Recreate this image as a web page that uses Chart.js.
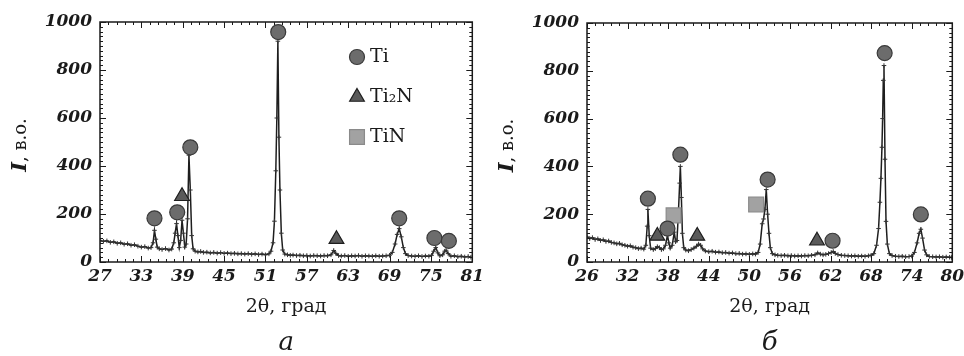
<!DOCTYPE html>
<html><head><meta charset="utf-8">
<script src="https://cdn.jsdelivr.net/npm/chart.js@4.4.1/dist/chart.umd.min.js"></script>
<style>
html,body{margin:0;padding:0;background:#fff;}
#wrap{display:flex;width:964px;height:356px;}
.box{position:relative;width:482px;height:356px;}
</style></head><body>
<div id="wrap"><div class="box"><canvas id="cA" width="482" height="356"></canvas></div><div class="box"><canvas id="cB" width="482" height="356"></canvas></div></div>
<script>
// ---- tick labels ----
const xTicksA = [27,33,39,45,51,57,63,69,75,81];
const xTicksB = [26,32,38,44,50,56,62,68,74,80];
const yTicks = [0,200,400,600,800,1000];
const xTitle = '2θ, град';
const yTitleMain = 'I';
const yTitleRest = ', в.о.';
const panelLabels = ['а','б'];
const legendLabels = ['Ti','Ti₂N','TiN'];

// ---- panel а : diffraction pattern ----
const angleA = [27.0,27.5,28.0,28.5,29.0,29.5,30.0,30.5,31.0,31.5,
 32.0,32.5,33.0,33.5,34.0,34.4,34.7,34.9,35.1,35.3,
 35.6,36.0,36.5,37.0,37.4,37.7,37.9,38.1,38.3,38.5,
 38.7,38.9,39.1,39.3,39.5,39.7,39.9,40.1,40.3,40.5,
 40.8,41.2,41.6,42.0,42.5,43.0,43.5,44.0,44.5,45.0,
 45.5,46.0,46.5,47.0,47.5,48.0,48.5,49.0,49.5,50.0,
 50.5,51.0,51.5,51.8,52.1,52.3,52.5,52.65,52.8,52.95,
 53.1,53.3,53.5,53.8,54.2,54.6,55.0,55.5,56.0,56.5,
 57.0,57.5,58.0,58.5,59.0,59.5,60.0,60.5,60.9,61.2,
 61.6,62.0,62.5,63.0,63.5,64.0,64.5,65.0,65.5,66.0,
 66.5,67.0,67.5,68.0,68.5,69.0,69.4,69.8,70.1,70.4,
 70.7,71.0,71.3,71.7,72.2,72.7,73.2,73.7,74.2,74.7,
 75.1,75.4,75.7,76.0,76.3,76.7,77.0,77.2,77.5,77.9,
 78.4,78.9,79.4,79.9,80.4,80.8];
const intensityA = [90,86,88,82,84,78,80,74,76,70,
 72,66,62,64,58,60,80,132,95,62,
 55,52,56,50,54,80,120,160,110,60,
 90,174,120,62,75,180,445,300,110,55,
 45,42,44,40,41,38,40,37,39,36,
 37,35,36,34,35,33,35,32,34,31,
 33,30,34,45,80,170,380,600,920,520,
 300,120,50,33,30,28,29,27,28,26,
 27,25,27,26,25,27,26,30,48,36,
 27,25,27,24,26,25,27,24,26,25,
 24,26,24,25,26,28,40,75,115,139,
 105,60,35,27,25,24,26,23,25,24,
 28,45,60,38,26,30,45,49,35,24,
 26,22,24,21,23,20];
const tiA_x = [34.9,38.2,40.1,52.85,70.4,75.5,77.6];
const tiA_y = [182,207,478,958,182,100,88];
const ti2nA_x = [38.9,61.3];
const ti2nA_y = [274,95];
const tinA_x = [];
const tinA_y = [];

// ---- panel б : diffraction pattern ----
const angleB = [26.0,26.4,26.8,27.2,27.6,28.0,28.4,28.8,29.2,29.6,
 30.0,30.4,30.8,31.2,31.6,32.0,32.4,32.8,33.2,33.6,
 34.0,34.4,34.7,34.9,35.0,35.2,35.4,35.8,36.1,36.4,
 36.7,37.0,37.3,37.6,37.9,38.1,38.3,38.6,38.9,39.1,
 39.3,39.5,39.7,39.8,39.95,40.1,40.3,40.6,41.0,41.4,
 41.8,42.2,42.5,42.8,43.1,43.5,44.0,44.5,45.0,45.5,
 46.0,46.5,47.0,47.5,48.0,48.5,49.0,49.5,50.0,50.5,
 50.9,51.3,51.6,51.9,52.1,52.3,52.5,52.7,52.9,53.1,
 53.4,53.8,54.2,54.7,55.2,55.7,56.2,56.7,57.2,57.7,
 58.2,58.7,59.2,59.7,60.1,60.5,60.9,61.3,61.7,62.1,
 62.4,62.7,63.1,63.6,64.1,64.6,65.1,65.6,66.1,66.6,
 67.1,67.6,68.0,68.4,68.8,69.1,69.3,69.45,69.6,69.7,
 69.8,69.9,70.05,70.2,70.4,70.7,71.1,71.6,72.1,72.6,
 73.1,73.6,74.0,74.4,74.8,75.1,75.35,75.6,75.9,76.2,
 76.6,77.1,77.6,78.1,78.6,79.1,79.6,79.9];
const intensityB = [105,98,102,94,97,90,93,86,88,82,
 80,76,78,72,70,66,68,62,60,56,
 58,54,70,150,220,110,58,52,56,64,
 60,52,55,70,112,80,58,70,125,85,
 90,200,330,400,270,120,60,50,47,52,
 58,66,75,70,55,46,43,45,41,42,
 39,40,37,38,35,36,33,34,32,34,
 33,40,75,160,180,220,303,200,120,60,
 35,30,28,27,28,26,27,25,26,25,
 27,26,28,30,38,33,30,32,35,40,
 44,36,31,28,27,26,25,26,24,25,
 24,26,28,35,70,140,250,350,480,600,
 760,822,430,170,75,35,27,24,23,24,
 22,23,25,40,80,120,137,100,50,30,
 23,22,21,22,20,21,20,19];
const tiB_x = [35.0,37.9,39.8,52.7,62.3,70.0,75.35];
const tiB_y = [265,140,449,345,89,874,199];
const ti2nB_x = [36.4,42.3,60.0];
const ti2nB_y = [109,109,89];
const tinB_x = [38.8,51.0];
const tinB_y = [195,241];

// ---- styles ----
const INK = '#1a1a1a';
const MARK = {
  Ti:   {style:'circle',   radius:7.5, fill:'#6c6c6c', stroke:'#3a3a3a'},
  Ti2N: {style:'triangle', radius:8.5, fill:'#5a5a5a', stroke:'#1e1e1e'},
  TiN:  {style:'rect',     radius:10.5, fill:'#a2a2a2', stroke:'#8a8a8a'}
};
const tickFont = {family:'DejaVu Serif', size:17, style:'italic', weight:'bold'};

function pts(xs, ys){ return xs.map((v,i)=>({x:v, y:ys[i]})); }

function drawMarker(ctx, m, x, y){
  ctx.save();
  ctx.fillStyle = m.fill; ctx.strokeStyle = m.stroke; ctx.lineWidth = 1.2;
  ctx.beginPath();
  if (m.style === 'circle') { ctx.arc(x, y, m.radius, 0, Math.PI*2); }
  else if (m.style === 'triangle') {
    const r = m.radius;
    ctx.moveTo(x, y - r);
    ctx.lineTo(x + r*Math.sin(Math.PI*2/3), y - r*Math.cos(Math.PI*2/3));
    ctx.lineTo(x + r*Math.sin(Math.PI*4/3), y - r*Math.cos(Math.PI*4/3));
    ctx.closePath();
  } else { const s = m.radius*Math.SQRT1_2; ctx.rect(x-s, y-s, 2*s, 2*s); }
  ctx.fill(); ctx.stroke();
  ctx.restore();
}

const framePlugin = {
  id: 'frame',
  afterDraw(chart, args, opts){
    const {ctx, chartArea:a} = chart;
    const x = chart.scales.x, y = chart.scales.y;
    ctx.save();
    ctx.strokeStyle = INK; ctx.lineWidth = 1.5;
    ctx.strokeRect(a.left, a.top, a.right - a.left, a.bottom - a.top);
    ctx.lineWidth = 1;
    ctx.beginPath();
    const xt = opts.xTicks;
    xt.forEach(v => { const p = Math.round(x.getPixelForValue(v)) + 0.5;
      ctx.moveTo(p, a.bottom); ctx.lineTo(p, a.bottom - 6);
      ctx.moveTo(p, a.top); ctx.lineTo(p, a.top + 6); });
    for (let i = 0; i < xt.length - 1; i++) {
      const st = (xt[i+1] - xt[i]) / 5;
      for (let k = 1; k < 5; k++) { const p = Math.round(x.getPixelForValue(xt[i] + k*st)) + 0.5;
        ctx.moveTo(p, a.bottom); ctx.lineTo(p, a.bottom - 3);
        ctx.moveTo(p, a.top); ctx.lineTo(p, a.top + 3); }
    }
    for (let v = 0; v <= 1000; v += 20) {
      const p = Math.round(y.getPixelForValue(v)) + 0.5;
      const L = (v % 200 === 0) ? 6 : 3;
      ctx.moveTo(a.left, p); ctx.lineTo(a.left + L, p);
      ctx.moveTo(a.right, p); ctx.lineTo(a.right - L, p);
    }
    ctx.stroke();
    // y title (mixed style)
    ctx.translate(a.left - 79, (a.top + a.bottom) / 2 + 3);
    ctx.rotate(-Math.PI/2);
    ctx.fillStyle = INK; ctx.textBaseline = 'middle';
    ctx.font = 'italic bold 21px "DejaVu Serif"';
    const w1 = ctx.measureText(yTitleMain).width;
    ctx.font = '18px "DejaVu Serif"';
    const w2 = ctx.measureText(yTitleRest).width;
    const x0 = -(w1 + w2) / 2;
    ctx.font = 'italic bold 21px "DejaVu Serif"';
    ctx.textAlign = 'left';
    ctx.fillText(yTitleMain, x0, 0);
    ctx.font = '18px "DejaVu Serif"';
    ctx.fillText(yTitleRest, x0 + w1, 0);
    ctx.restore();
    // legend
    if (opts.legend) {
      const lx = a.left + 257;
      const keys = ['Ti','Ti2N','TiN'];
      ctx.save();
      ctx.font = '19px "DejaVu Serif"'; ctx.fillStyle = INK; ctx.textBaseline = 'middle'; ctx.textAlign = 'left';
      keys.forEach((k, i) => {
        const ly = a.top + 35 + 40*i;
        drawMarker(ctx, MARK[k], lx, ly);
        ctx.fillText(legendLabels[i], lx + 13, ly);
      });
      ctx.restore();
    }
  }
};

function makeChart(id, ang, inten, ti, ti2n, tin, xTicks, label, padTop, yWidth, showLegend){
  const markerSet = (m, data) => ({
    type: 'scatter', data, order: 0, showLine: false,
    pointStyle: m.style, pointRadius: m.radius, pointHoverRadius: m.radius,
    pointBackgroundColor: m.fill, pointBorderColor: m.stroke, pointBorderWidth: 1.2
  });
  return new Chart(document.getElementById(id), {
    type: 'line',
    data: { datasets: [
      markerSet(MARK.Ti, ti), markerSet(MARK.Ti2N, ti2n), markerSet(MARK.TiN, tin),
      { data: pts(ang, inten), order: 1, borderColor: '#1e1e1e', borderWidth: 1.5,
        pointStyle: 'cross', pointRadius: 2.3, pointBorderColor: '#333', pointBorderWidth: 1,
        tension: 0, fill: false }
    ]},
    options: {
      responsive: false, animation: false, devicePixelRatio: 1,
      layout: { padding: { left: 0, right: 9, top: padTop, bottom: 0 } },
      plugins: {
        legend: { display: false }, tooltip: { enabled: false },
        title: { display: true, position: 'bottom', fullSize: false, text: label, color: INK,
          font: { family: 'DejaVu Serif', size: 26, style: 'italic', weight: 'normal', lineHeight: 1 },
          padding: { top: 0, bottom: 0 } },
        frame: { xTicks, legend: showLegend }
      },
      scales: {
        x: { type: 'linear', min: xTicks[0], max: xTicks[xTicks.length-1],
          afterBuildTicks: s => { s.ticks = xTicks.map(v => ({value: v})); },
          afterFit: s => { s.height = 68; s.paddingLeft = 0; s.paddingRight = 0; },
          grid: { display: false, drawTicks: false }, border: { display: false },
          ticks: { font: tickFont, color: INK, padding: 4, maxRotation: 0, autoSkip: false,
            callback: v => String(v) },
          title: { display: true, text: xTitle, color: INK,
            font: { family: 'DejaVu Serif', size: 19 }, padding: { top: 6, bottom: 12 } } },
        y: { min: 0, max: 1000,
          afterBuildTicks: s => { s.ticks = yTicks.map(v => ({value: v})); },
          afterFit: s => { s.width = yWidth; s.paddingTop = 0; s.paddingBottom = 0; },
          grid: { display: false, drawTicks: false }, border: { display: false },
          ticks: { font: tickFont, color: INK, padding: 8, callback: v => String(v) } }
      }
    },
    plugins: [framePlugin]
  });
}

makeChart('cA', angleA, intensityA, pts(tiA_x, tiA_y), pts(ti2nA_x, ti2nA_y), pts(tinA_x, tinA_y),
  xTicksA, panelLabels[0], 22, 100, true);
makeChart('cB', angleB, intensityB, pts(tiB_x, tiB_y), pts(ti2nB_x, ti2nB_y), pts(tinB_x, tinB_y),
  xTicksB, panelLabels[1], 23, 105, false);
</script>
</body></html>
